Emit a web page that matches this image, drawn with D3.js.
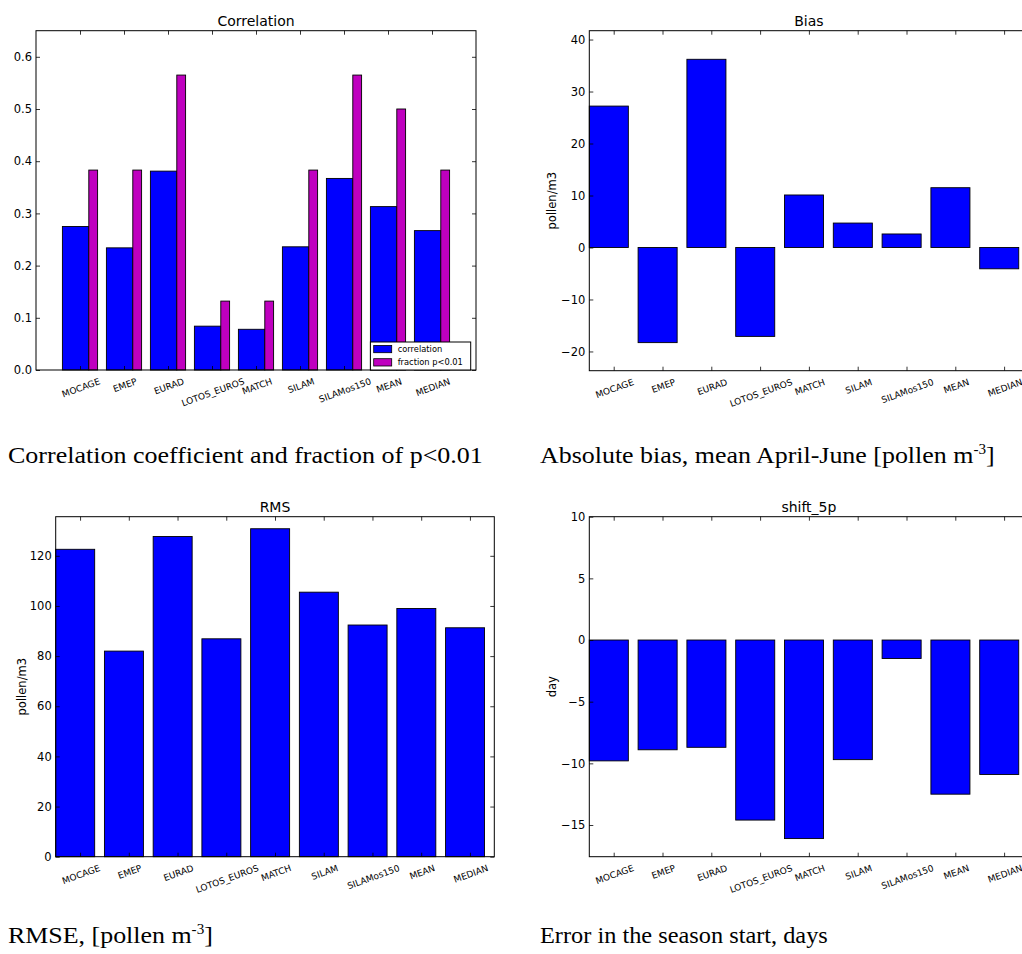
<!DOCTYPE html>
<html>
<head>
<meta charset="utf-8">
<script src="https://cdn.jsdelivr.net/npm/d3@7"></script>
<style>
  body { margin: 0; background: #fff; overflow: hidden; }
  svg { display: block; font-family: "DejaVu Sans", sans-serif; }
  .caption text { font-family: "Liberation Serif", "Times New Roman", serif; font-size: 24px; fill: #000; }
</style>
</head>
<body>
<div id="chart"></div>
<script>
// model names along the x axis
const models = ['MOCAGE', 'EMEP', 'EURAD', 'LOTOS_EUROS', 'MATCH', 'SILAM', 'SILAMos150', 'MEAN', 'MEDIAN'];

// values
const correlation = [0.275, 0.234, 0.381, 0.084, 0.078, 0.236, 0.367, 0.313, 0.267];
const fractionP01 = [0.383, 0.383, 0.565, 0.132, 0.132, 0.383, 0.565, 0.500, 0.383];
const bias = [27.2, -18.3, 36.2, -17.1, 10.1, 4.7, 2.6, 11.5, -4.1];
const rms = [122.6, 82.0, 127.7, 86.9, 130.8, 105.5, 92.4, 99.0, 91.3];
const shift5p = [-9.8, -8.9, -8.7, -14.6, -16.1, -9.7, -1.5, -12.5, -10.9];

// y tick labels
const corrTicks = [0, 0.1, 0.2, 0.3, 0.4, 0.5, 0.6];
const biasTicks = [-20, -10, 0, 10, 20, 30, 40];
const rmsTicks = [0, 20, 40, 60, 80, 100, 120];
const shiftTicks = [-15, -10, -5, 0, 5, 10];

const width = 1022, height = 954;
const blue = '#0000ff', magenta = '#bf00bf';

const panels = [
  { title: 'Correlation', left: 36, top: 30.7, right: 476, bottom: 370,
    xMax: 10, tickOffset: 1, yDomain: [0, 0.65], yTicks: corrTicks, fmt: '.1f', ylabel: null,
    series: [
      { values: correlation, x0: 0.6, w: 0.6, color: blue, name: 'correlation' },
      { values: fractionP01, x0: 1.2, w: 0.2, color: magenta, name: 'fraction p<0.01' }
    ], legend: true },
  { title: 'Bias', left: 589.3, top: 30.7, right: 1028.5, bottom: 370.7,
    xMax: 9, tickOffset: 0.5, yDomain: [-23.7, 41.7], yTicks: biasTicks, fmt: 'd', ylabel: 'pollen/m3', ylabelX: 552,
    series: [{ values: bias, x0: 0, w: 0.8, color: blue }] },
  { title: 'RMS', left: 55.7, top: 516.7, right: 494.3, bottom: 856.7,
    xMax: 9, tickOffset: 0.5, yDomain: [0, 135.6], yTicks: rmsTicks, fmt: 'd', ylabel: 'pollen/m3', ylabelX: 22,
    series: [{ values: rms, x0: 0, w: 0.8, color: blue }] },
  { title: 'shift_5p', left: 589.3, top: 516.7, right: 1028.5, bottom: 856.7,
    xMax: 9, tickOffset: 0.5, yDomain: [-17.57, 10], yTicks: shiftTicks, fmt: 'd', ylabel: 'day', ylabelX: 552,
    series: [{ values: shift5p, x0: 0, w: 0.8, color: blue }] }
];

const svg = d3.select('#chart').append('svg')
    .attr('width', width)
    .attr('height', height);

panels.forEach(p => drawPanel(p));

function drawPanel(p) {
  const w = p.right - p.left, h = p.bottom - p.top;
  const g = svg.append('g').attr('transform', `translate(${p.left},${p.top})`);

  const x = d3.scaleLinear().domain([0, p.xMax]).range([0, w]);
  const y = d3.scaleLinear().domain(p.yDomain).range([h, 0]);

  // bars
  p.series.forEach(s => {
    g.selectAll(null)
      .data(s.values)
      .join('rect')
        .attr('x', (d, i) => x(i + s.x0))
        .attr('width', x(s.w) - x(0))
        .attr('y', d => y(Math.max(d, 0)))
        .attr('height', d => Math.abs(y(d) - y(0)))
        .attr('fill', s.color)
        .attr('stroke', '#000')
        .attr('stroke-width', 0.9);
  });

  const tickPos = models.map((m, i) => i + p.tickOffset);

  // axes, ticks pointing inward on all four sides (classic matplotlib)
  const yAxisG = g.append('g')
      .call(d3.axisLeft(y).tickValues(p.yTicks).tickSizeInner(-4).tickSizeOuter(0)
        .tickPadding(4).tickFormat(d3.format(p.fmt)));
  g.append('g').attr('transform', `translate(${w},0)`)
      .call(d3.axisRight(y).tickValues(p.yTicks).tickSizeInner(-4).tickSizeOuter(0).tickFormat(''));
  g.append('g')
      .call(d3.axisTop(x).tickValues(tickPos).tickSizeInner(-4).tickSizeOuter(0).tickFormat(''));
  g.append('g').attr('transform', `translate(0,${h})`)
      .call(d3.axisBottom(x).tickValues(tickPos).tickSizeInner(-4).tickSizeOuter(0).tickFormat(''));

  g.selectAll('.domain').remove();
  g.selectAll('.tick line').attr('stroke', '#000').attr('stroke-width', 0.8);
  yAxisG.selectAll('text')
      .attr('font-size', '11.5px')
      .attr('font-family', '"DejaVu Sans", sans-serif')
      .attr('fill', '#000');

  // frame
  g.append('rect')
      .attr('width', w).attr('height', h)
      .attr('fill', 'none')
      .attr('stroke', '#000')
      .attr('stroke-width', 1);

  // rotated model labels, top of rotated box just under the axis
  const angle = 20, fs = 9, pad = 6;
  g.selectAll(null)
    .data(models)
    .join('text')
      .attr('font-size', fs + 'px')
      .attr('text-anchor', 'middle')
      .attr('dy', '0.35em')
      .text(d => d)
      .each(function(d, i) {
        const tw = this.getComputedTextLength();
        const rad = angle * Math.PI / 180;
        const boxH = tw * Math.sin(rad) + fs * 1.16 * Math.cos(rad);
        const cx = x(i + p.tickOffset) + 1, cy = h + pad + boxH / 2;
        d3.select(this)
          .attr('x', cx).attr('y', cy)
          .attr('transform', `rotate(${-angle},${cx},${cy})`);
      });

  // title
  g.append('text')
      .attr('x', w / 2)
      .attr('y', -5)
      .attr('text-anchor', 'middle')
      .attr('font-size', '14px')
      .text(p.title);

  if (p.ylabel) {
    const cy = p.top + h / 2;
    svg.append('text')
        .attr('x', p.ylabelX).attr('y', cy)
        .attr('dy', '0.35em')
        .attr('text-anchor', 'middle')
        .attr('font-size', '11.5px')
        .attr('transform', `rotate(-90,${p.ylabelX},${cy})`)
        .text(p.ylabel);
  }

  if (p.legend) {
    const lw = 100.3, lh = 28;
    const lg = g.append('g').attr('transform', `translate(${w - 5.3 - lw},${h - lh})`);
    lg.append('rect')
        .attr('width', lw).attr('height', lh)
        .attr('fill', '#fff').attr('stroke', '#000').attr('stroke-width', 1);
    p.series.forEach((s, k) => {
      const cy = 7 + k * 13.3;
      lg.append('rect')
          .attr('x', 3.3).attr('y', cy - 3.6)
          .attr('width', 18).attr('height', 7.3)
          .attr('fill', s.color).attr('stroke', '#000').attr('stroke-width', 0.8);
      lg.append('text')
          .attr('x', 27.3).attr('y', cy)
          .attr('dy', '0.35em')
          .attr('font-size', '8.3px')
          .text(s.name);
    });
  }
}

// figure captions below each panel, stretched to the widths seen in the figure
const captionDefs = [
  { x: 8, y: 463, width: 475, parts: ['Correlation coefficient and fraction of p<0.01'] },
  { x: 540, y: 463, width: 455, parts: ['Absolute bias, mean April-June [pollen m', '-3', ']'] },
  { x: 8, y: 943, width: 205, parts: ['RMSE, [pollen m', '-3', ']'] },
  { x: 540, y: 943, width: 288, parts: ['Error in the season start, days'] }
];

const captions = svg.append('g').attr('class', 'caption');
captionDefs.forEach(c => {
  const t = captions.append('text').attr('x', 0).attr('y', 0);
  t.append('tspan').text(c.parts[0]);
  if (c.parts.length > 1) {
    t.append('tspan').attr('font-size', '14px').attr('dy', -9).text(c.parts[1]);
    t.append('tspan').attr('dy', 9).text(c.parts[2]);
  }
  const bw = t.node().getBBox().width;
  t.attr('transform', `translate(${c.x},${c.y}) scale(${c.width / bw},1)`);
});
</script>
</body>
</html>
